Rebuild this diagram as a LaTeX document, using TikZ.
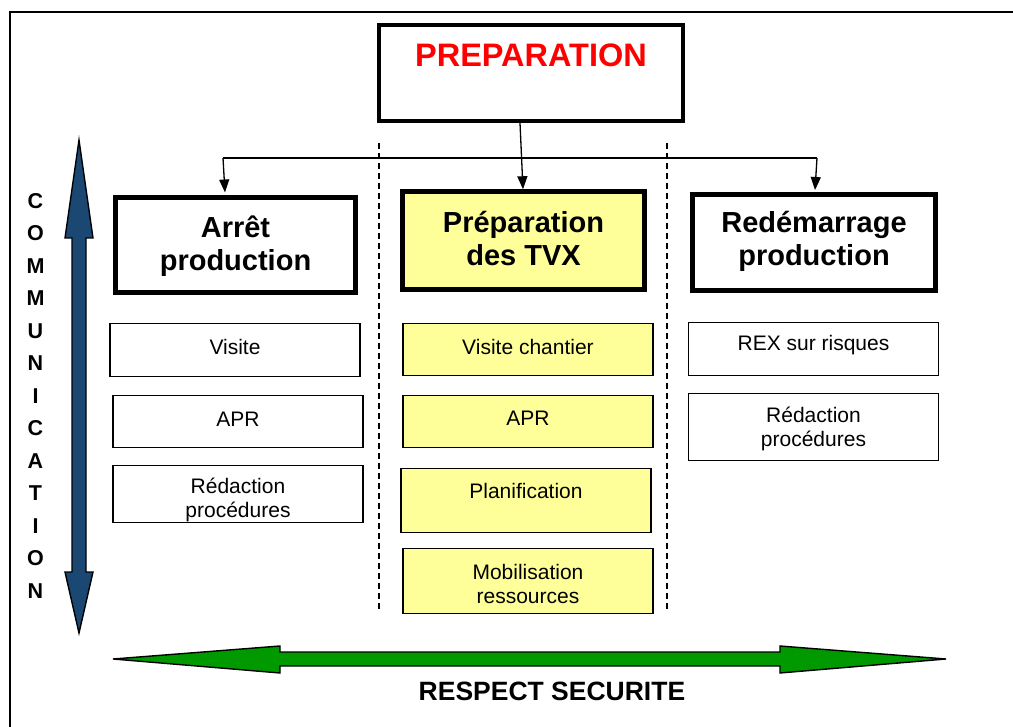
\documentclass[tikz,border=0pt]{standalone}
\usepackage{fontspec}
\setmainfont{Liberation Sans}
\usetikzlibrary{arrows.meta}
\definecolor{boxyellow}{RGB}{255,255,153}
\definecolor{commblue}{RGB}{26,72,114}
\definecolor{safegreen}{RGB}{0,153,0}
\definecolor{prepred}{RGB}{255,0,0}
\tikzset{
  headbox/.style={draw=black, line width=4.5pt, rectangle, inner sep=0pt},
  subbox/.style={draw=black, line width=1.5pt, rectangle, inner sep=0pt, minimum width=250pt},
  headtxt/.style={font=\fontsize{29}{33}\selectfont\bfseries, align=center, inner sep=0pt},
  subtxt/.style={font=\fontsize{21}{24}\selectfont, align=center, inner sep=0pt},
  conn/.style={line width=1.3pt, -{Triangle[length=13pt,width=10pt]}},
  sep/.style={line width=1.6pt, dash pattern=on 6pt off 4pt},
  commletter/.style={font=\fontsize{21.5}{21.5}\selectfont\bfseries, inner sep=0pt},
}
\begin{document}
\begin{tikzpicture}[x=1pt,y=-1pt]
\useasboundingbox (0,0) rectangle (1013,727);
\fill[white] (0,0) rectangle (1013,727);
% frame (left and top edges visible)
\draw[line width=2pt] (10,727) -- (10,12) -- (1013,12);

% top box
\node[headbox, minimum width=304pt, minimum height=96pt] (prep) at (531,73) {};
\node[font=\fontsize{32.5}{32.5}\selectfont\bfseries, text=prepred, inner sep=0pt] (preplbl) at (531,55) {PREPARATION};

% head boxes
\node[headbox, minimum width=240pt, minimum height=95pt] (arret) at (235.5,245) {};
\node[headtxt] (arretlbl) at (235.5,246) {Arrêt\\production};
\node[headbox, fill=boxyellow, minimum width=242pt, minimum height=98pt] (tvx) at (523.5,240.5) {};
\node[headtxt] (tvxlbl) at (523.5,238.5) {Préparation\\des TVX};
\node[headbox, minimum width=243pt, minimum height=96pt] (redem) at (814,242.5) {};
\node[headtxt] (redemlbl) at (814,241.5) {Redémarrage\\production};

% separators
\coordinate (s1a) at (379,143); \coordinate (s1b) at (379,612);
\coordinate (s2a) at (667,143); \coordinate (s2b) at (667,612);
\draw[sep] (s1a) -- (s1b);
\draw[sep] (s2a) -- (s2b);

% connectors
\coordinate (p0) at (520,123);
\coordinate (hl) at (223,158);
\coordinate (hr) at (817,158);
\draw[line width=1.3pt] (hl) -- (hr);
\draw[conn] (p0) -- (tvx.north -| 523,0);
\draw[conn] (hl) -- (225,192.5);
\draw[conn] (hr) -- (815,190);

% left column
\node[subbox, minimum height=53pt] (visite) at (235,350) {};
\node[subtxt] (visitelbl) at (235,347) {Visite};
\node[subbox, minimum height=52pt] (aprl) at (238,421.5) {};
\node[subtxt] (aprllbl) at (238,419) {APR};
\node[subbox, minimum height=57pt] (redl) at (238,494) {};
\node[subtxt] (redllbl) at (238,500) {Rédaction\\procédures};

% middle column
\node[subbox, fill=boxyellow, minimum height=52pt] (visc) at (528,349.5) {};
\node[subtxt] (visclbl) at (528,347) {Visite chantier};
\node[subbox, fill=boxyellow, minimum height=52pt] (aprm) at (528,421.5) {};
\node[subtxt] (aprmlbl) at (528,418.5) {APR};
\node[subbox, fill=boxyellow, minimum height=64pt] (plan) at (526,500.5) {};
\node[subtxt] (planlbl) at (526,491) {Planification};
\node[subbox, fill=boxyellow, minimum height=65pt] (mob) at (528,581) {};
\node[subtxt] (moblbl) at (528,583.5) {Mobilisation\\ressources};

% right column
\node[subbox, minimum height=53pt] (rex) at (813.5,349) {};
\node[subtxt] (rexlbl) at (813.5,345) {REX sur risques};
\node[subbox, minimum height=67pt] (redr) at (813.5,427) {};
\node[subtxt] (redrlbl) at (813.5,428.5) {Rédaction\\procédures};

% communication arrow
\draw[fill=commblue, line width=1.4pt, line join=miter]
  (79,140) -- (93,238) -- (86,238) -- (86,572) -- (93,572) -- (79,633)
  -- (65,572) -- (72,572) -- (72,238) -- (65,238) -- cycle;
\foreach \L [count=\i from 0] in {C,O,M,M,U,N,I,C,A,T,I,O,N}{
  \node[commletter] (comm\i) at (35.5,{201+32.5*\i}) {\L};
}

% security arrow
\draw[fill=safegreen, line width=1.4pt, line join=miter]
  (113,659) -- (280,646) -- (280,652) -- (780,652) -- (780,646) -- (946,659)
  -- (780,673) -- (780,666) -- (280,666) -- (280,673) -- cycle;
\node[font=\fontsize{26.5}{26.5}\selectfont\bfseries, inner sep=0pt] (resp) at (552,691) {RESPECT SECURITE};
\end{tikzpicture}
\end{document}
